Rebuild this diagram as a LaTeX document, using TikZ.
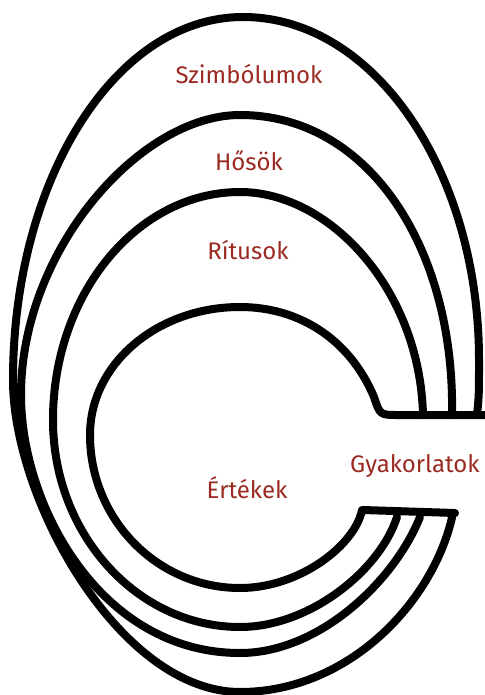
\documentclass[tikz,border=0pt]{standalone}
\usepackage{fontspec}
\setmainfont{Fira Sans}
\definecolor{labelred}{HTML}{9B2B22}
\begin{document}
\begin{tikzpicture}[x=1pt,y=-1pt,
  ring/.style={line width=8pt, line cap=round, line join=round},
  lbl/.style={text=labelred, font=\fontsize{24}{28}\selectfont, anchor=base, inner sep=0pt}]
\useasboundingbox (0,0) rectangle (484,695);

% outer layer: Szimbolumok
\draw[ring] (477,415) .. controls (479,395) .. (479,360)
  .. controls (479,171) and (374,17) .. (243,17)
  .. controls (115,17) and (13,180) .. (13,380)
  .. controls (13,500) and (120,692) .. (240,692)
  .. controls (350,692) and (435,600) .. (453,513);

% second layer: Hosok (meets the outer layer on the left)
\draw[ring] (452,415)
  .. controls (455,250) and (370,115) .. (240,115)
  .. controls (140,115) and (21,250) .. (21,395)
  .. controls (21,505) and (100,653) .. (240,653)
  .. controls (320,653) and (395,580) .. (420,517);

% third layer: Ritusok
\draw[ring] (423,415)
  .. controls (420,290) and (330,192) .. (240,192)
  .. controls (137,192) and (53,294) .. (53,420)
  .. controls (53,534) and (137,627) .. (240,627)
  .. controls (310,627) and (380,570) .. (397,517);

% core: Ertekek, running into the upper bar
\draw[ring] (362,510)
  .. controls (355,545) and (300,588) .. (240,588)
  .. controls (157,588) and (90,519) .. (90,435)
  .. controls (90,364) and (157,307) .. (240,307)
  .. controls (300,307) and (350,340) .. (374,397)
  .. controls (380,415) .. (398,415) -- (490,415);

% lower bar
\draw[line width=8pt, line cap=round] (363,510) -- (455,513);

\node[lbl] (szimb) at (249,84) {Szimbólumok};
\node[lbl] (hosok) at (249,171) {Hősök};
\node[lbl] (ritus) at (248,259) {Rítusok};
\node[lbl] (ertek) at (247,498) {Értékek};
\node[lbl] (gyak) at (415,472) {Gyakorlatok};
\end{tikzpicture}
\end{document}
